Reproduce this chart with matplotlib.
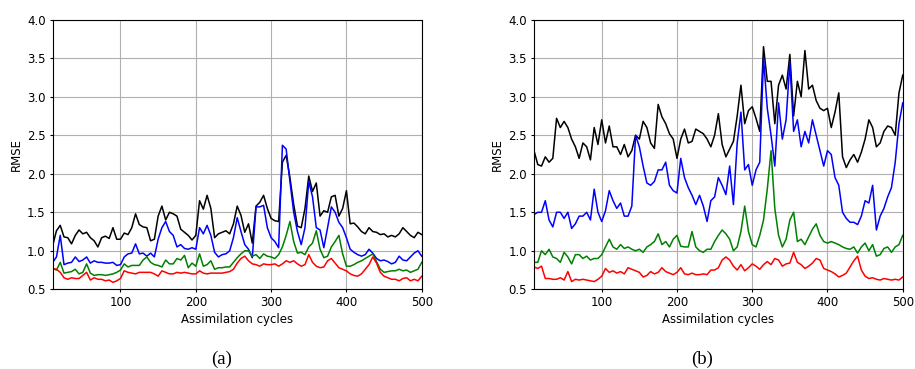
import numpy as np
import matplotlib
matplotlib.use("Agg")
import matplotlib.pyplot as plt


# Assimilation cycles (sampled every 5 cycles)
cycles = np.arange(10, 501, 5)

# Panel (a) RMSE series
a_black = [
    1.07, 1.26, 1.33, 1.18, 1.17, 1.09, 1.20, 1.27, 1.22, 1.24,
    1.17, 1.13, 1.05, 1.17, 1.19, 1.16, 1.30, 1.15, 1.15, 1.23,
    1.21, 1.30, 1.48, 1.34, 1.31, 1.30, 1.13, 1.15, 1.45, 1.58,
    1.40, 1.50, 1.48, 1.45, 1.28, 1.24, 1.20, 1.14, 1.20, 1.65,
    1.54, 1.72, 1.55, 1.17, 1.22, 1.24, 1.26, 1.22, 1.35, 1.58,
    1.46, 1.24, 1.35, 1.10, 1.58, 1.63, 1.72, 1.55, 1.42, 1.39,
    1.38, 2.15, 2.24, 1.95, 1.60, 1.32, 1.30, 1.55, 1.97, 1.77,
    1.88, 1.45, 1.52, 1.50, 1.70, 1.72, 1.45, 1.55, 1.78, 1.35,
    1.36, 1.31, 1.25, 1.22, 1.30, 1.25, 1.24, 1.21, 1.22, 1.18,
    1.20, 1.18, 1.22, 1.30, 1.25, 1.20, 1.17, 1.24, 1.21,
]
a_blue = [
    0.85, 0.92, 1.20, 0.82, 0.84, 0.85, 0.92, 0.86, 0.88, 0.92,
    0.84, 0.87, 0.85, 0.85, 0.84, 0.84, 0.85, 0.81, 0.82, 0.92,
    0.96, 0.97, 1.09, 0.96, 0.97, 0.93, 0.97, 0.92, 1.15, 1.30,
    1.38, 1.25, 1.20, 1.05, 1.08, 1.03, 1.02, 1.04, 1.02, 1.30,
    1.22, 1.33, 1.20, 0.98, 0.92, 0.95, 0.96, 1.00, 1.17, 1.43,
    1.25, 1.08, 1.02, 0.91, 1.57, 1.57, 1.59, 1.30, 1.17, 1.12,
    1.04, 2.37, 2.32, 1.90, 1.50, 1.25, 1.08, 1.30, 1.90, 1.70,
    1.30, 1.27, 1.04, 1.30, 1.57, 1.50, 1.37, 1.30, 1.17, 1.02,
    0.98, 0.95, 0.93, 0.95, 1.02, 0.97, 0.90, 0.87, 0.88, 0.86,
    0.83, 0.85, 0.93, 0.88, 0.87, 0.92, 0.97, 1.00, 0.93,
]
a_green = [
    0.77, 0.75, 0.85, 0.71, 0.72, 0.73, 0.76, 0.70, 0.72, 0.83,
    0.71, 0.68, 0.69, 0.69, 0.68, 0.69, 0.70, 0.72, 0.75, 0.83,
    0.79, 0.81, 0.81, 0.81, 0.88, 0.92, 0.85, 0.82, 0.81, 0.79,
    0.88, 0.83, 0.83, 0.90, 0.88, 0.94, 0.78, 0.84, 0.80, 0.96,
    0.80, 0.82, 0.87, 0.76, 0.78, 0.78, 0.79, 0.79, 0.85, 0.91,
    0.96, 1.00, 1.00, 0.93, 0.95, 0.90, 0.96, 0.93, 0.92, 0.90,
    0.95, 1.05, 1.20, 1.38, 1.12, 0.97, 0.98, 0.95, 1.05, 1.10,
    1.26, 1.02, 0.91, 0.93, 1.05, 1.12, 1.20, 0.96, 0.80, 0.80,
    0.82, 0.85, 0.87, 0.90, 0.93, 0.96, 0.86, 0.76, 0.72, 0.73,
    0.74, 0.74, 0.76, 0.74, 0.75, 0.72, 0.74, 0.76, 0.85,
]
a_red = [
    0.77, 0.76, 0.72, 0.65, 0.63, 0.65, 0.64, 0.64, 0.68, 0.72,
    0.62, 0.65, 0.63, 0.63, 0.61, 0.62, 0.59, 0.61, 0.64, 0.74,
    0.72, 0.71, 0.70, 0.72, 0.72, 0.72, 0.72, 0.70, 0.67, 0.74,
    0.72, 0.70, 0.70, 0.72, 0.71, 0.72, 0.71, 0.70, 0.70, 0.74,
    0.71, 0.70, 0.71, 0.71, 0.71, 0.71, 0.72, 0.73, 0.76, 0.84,
    0.90, 0.93, 0.87, 0.83, 0.82, 0.80, 0.83, 0.82, 0.82, 0.83,
    0.80, 0.83, 0.87, 0.85, 0.87, 0.83, 0.80, 0.82, 0.95, 0.85,
    0.80, 0.78, 0.79, 0.87, 0.90, 0.84, 0.78, 0.76, 0.74, 0.70,
    0.68, 0.67, 0.70, 0.76, 0.82, 0.92, 0.84, 0.72, 0.67, 0.65,
    0.63, 0.63, 0.61, 0.64, 0.65, 0.61, 0.63, 0.61, 0.67,
]

# Panel (b) RMSE series
b_black = [
    2.30, 2.12, 2.10, 2.22, 2.15, 2.20, 2.72, 2.60, 2.68, 2.60,
    2.45, 2.35, 2.20, 2.40, 2.35, 2.18, 2.60, 2.38, 2.70, 2.40,
    2.62, 2.35, 2.35, 2.25, 2.38, 2.22, 2.30, 2.50, 2.45, 2.68,
    2.60, 2.40, 2.33, 2.90, 2.74, 2.65, 2.52, 2.45, 2.20, 2.45,
    2.58, 2.40, 2.42, 2.58, 2.55, 2.52, 2.45, 2.35, 2.50, 2.78,
    2.38, 2.22, 2.32, 2.42, 2.75, 3.15, 2.65, 2.82, 2.87, 2.72,
    2.55, 3.65, 3.20, 3.20, 2.65, 3.15, 3.28, 3.10, 3.55, 2.75,
    3.20, 3.00, 3.60, 3.10, 3.15, 2.95, 2.85, 2.82, 2.85, 2.60,
    2.80, 3.05, 2.22, 2.08, 2.18, 2.25, 2.15, 2.28, 2.45, 2.70,
    2.60, 2.35, 2.40, 2.55, 2.62, 2.60, 2.50, 3.05, 3.28,
]
b_blue = [
    1.47, 1.50, 1.50, 1.65, 1.40, 1.31, 1.50, 1.50, 1.42, 1.50,
    1.29, 1.35, 1.45, 1.45, 1.50, 1.40, 1.80, 1.50, 1.38, 1.52,
    1.78, 1.65, 1.55, 1.62, 1.45, 1.45, 1.58, 2.50, 2.35, 2.10,
    1.88, 1.85, 1.90, 2.05, 2.05, 2.15, 1.85, 1.78, 1.75, 2.20,
    1.95, 1.82, 1.72, 1.60, 1.72, 1.58, 1.38, 1.65, 1.70, 1.95,
    1.85, 1.73, 2.10, 1.60, 2.40, 2.80, 2.05, 2.12, 1.85, 2.05,
    2.15, 3.50, 2.85, 2.50, 2.10, 2.92, 2.45, 2.70, 3.45, 2.55,
    2.70, 2.35, 2.55, 2.40, 2.70, 2.50, 2.30, 2.10, 2.30, 2.25,
    1.95, 1.85, 1.50, 1.42, 1.37, 1.37, 1.34, 1.45, 1.65, 1.62,
    1.85, 1.27, 1.45, 1.55, 1.70, 1.82, 2.15, 2.65, 2.92,
]
b_green = [
    0.85, 0.85, 1.00, 0.95, 1.02, 0.92, 0.90, 0.85, 0.98, 0.92,
    0.83, 0.95, 0.95, 0.90, 0.93, 0.88, 0.90, 0.90, 0.95, 1.05,
    1.15, 1.05, 1.02, 1.08, 1.03, 1.05, 1.02, 1.00, 1.02, 0.98,
    1.05, 1.08, 1.12, 1.22, 1.08, 1.12, 1.05, 1.15, 1.20, 1.06,
    1.05, 1.05, 1.25, 1.05, 1.00, 0.98, 1.02, 1.02, 1.12, 1.20,
    1.27, 1.22, 1.15, 1.00, 1.05, 1.25, 1.58, 1.25, 1.08, 1.05,
    1.20, 1.40, 1.80, 2.30, 1.55, 1.20, 1.05, 1.15, 1.40, 1.50,
    1.12, 1.15, 1.08, 1.18, 1.28, 1.35, 1.20, 1.12, 1.10, 1.12,
    1.10, 1.08, 1.05, 1.03, 1.02, 1.05, 0.97, 1.05, 1.10, 1.00,
    1.08, 0.93, 0.95, 1.03, 1.05, 0.98, 1.05, 1.08, 1.20,
]
b_red = [
    0.79, 0.77, 0.80, 0.64, 0.64, 0.63, 0.63, 0.65, 0.62, 0.73,
    0.60, 0.63, 0.62, 0.63, 0.62, 0.61, 0.60, 0.63, 0.67, 0.77,
    0.72, 0.74, 0.71, 0.73, 0.70, 0.78, 0.76, 0.74, 0.72, 0.66,
    0.68, 0.73, 0.70, 0.72, 0.78, 0.73, 0.71, 0.69, 0.72, 0.78,
    0.70, 0.69, 0.71, 0.69, 0.69, 0.70, 0.69, 0.75, 0.75, 0.78,
    0.88, 0.92, 0.88, 0.80, 0.75, 0.82, 0.74, 0.78, 0.83, 0.80,
    0.76, 0.82, 0.86, 0.82, 0.90, 0.88, 0.80, 0.83, 0.84, 0.98,
    0.85, 0.82, 0.77, 0.80, 0.84, 0.90, 0.88, 0.77, 0.75, 0.73,
    0.70, 0.66, 0.68, 0.71, 0.79, 0.87, 0.93, 0.75, 0.67, 0.64,
    0.65, 0.63, 0.62, 0.64, 0.63, 0.62, 0.63, 0.62, 0.66,
]

LINE_COLORS = ["black", "blue", "green", "red"]


def plot_panel(ax, series, tag, tag_x):

    for values, color in zip(series, LINE_COLORS):
        ax.plot(cycles, values, color=color, linewidth=1.1)

    ax.set_xlim(10, 500)
    ax.set_ylim(0.5, 4.0)
    ax.set_xticks([100, 200, 300, 400, 500])
    ax.set_yticks(np.arange(0.5, 4.01, 0.5))
    ax.yaxis.set_major_formatter(matplotlib.ticker.FormatStrFormatter("%.1f"))

    ax.grid(True, color="#b0b0b0", linewidth=0.8)
    ax.set_axisbelow(True)
    ax.tick_params(labelsize=8.5, length=2.5, width=0.8, pad=2.5)

    ax.set_xlabel("Assimilation cycles", fontsize=8.5, labelpad=2.5)
    ax.set_ylabel("RMSE", fontsize=8.5, labelpad=3)

    fig.text(tag_x, 0.026, tag, ha="center", va="center",
             fontsize=13.5, family="Liberation Serif")


fig = plt.figure(figsize=(9.15, 3.69), dpi=100)

ax_a = fig.add_axes([0.0576, 0.216, 0.4033, 0.7306])
ax_b = fig.add_axes([0.5836, 0.216, 0.4030, 0.7306])

plot_panel(ax_a, [a_black, a_blue, a_green, a_red], "(a)", 0.242)
plot_panel(ax_b, [b_black, b_blue, b_green, b_red], "(b)", 0.767)

fig.savefig("out.png", dpi=100)
plt.close(fig)
